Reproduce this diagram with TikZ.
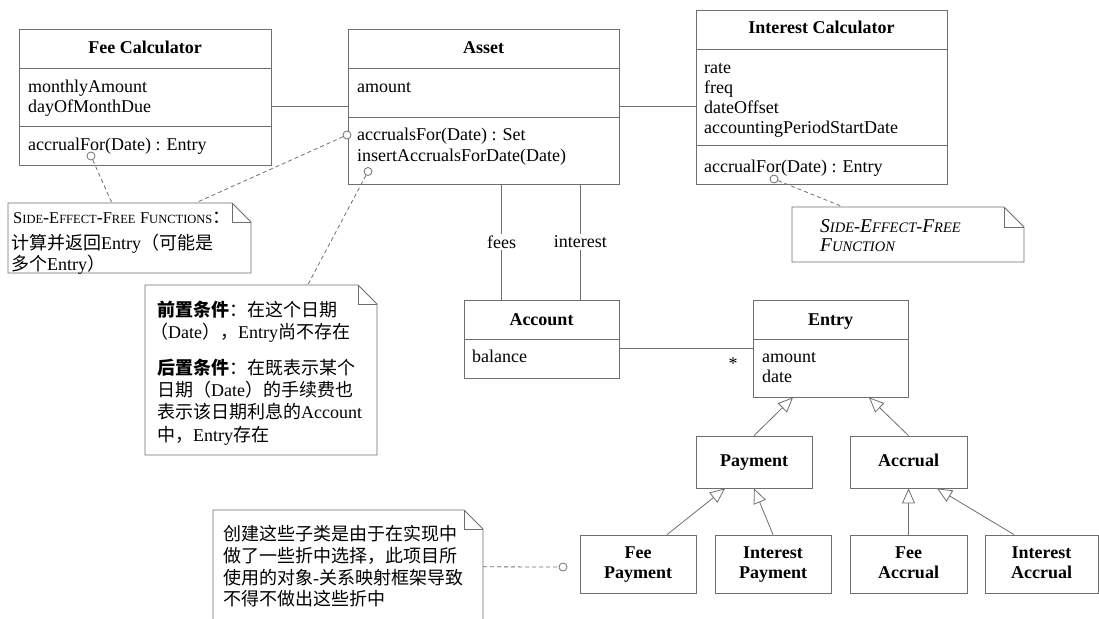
\documentclass[tikz,border=0pt]{standalone}
\usepackage{fontspec}
\setmainfont{Liberation Serif}
\newfontfamily\cjk{Noto Sans CJK SC}
\usetikzlibrary{arrows.meta,calc}
\definecolor{lg}{HTML}{6E6E6E}
\newcommand{\zh}[1]{{\cjk #1}}
\newcommand{\scA}[2]{{\fontsize{16.5}{20}\selectfont #1}{\fontsize{12.5}{20}\selectfont #2}}
\newcommand{\scB}[2]{{\fontsize{19.5}{20}\selectfont #1}{\fontsize{14.5}{20}\selectfont #2}}
\newcommand{\tl}[4]{\node[txt] (#1) at (#2,#3) {#4};}
\newcommand{\notefold}[5]{%
  \draw[ln, fill=white] (#1,#2) -- (#3-#5,#2) -- (#3,#2+#5) -- (#3,#4) -- (#1,#4) -- cycle;
  \draw[ln] (#3-#5,#2) -- (#3-#5,#2+#5) -- (#3,#2+#5);}
\begin{document}
\begin{tikzpicture}[x=1pt,y=-1pt,
  font=\fontsize{18}{20}\selectfont,
  ln/.style={draw=lg, line width=0.8pt},
  cls/.style={ln, rectangle, inner sep=0, fill=white},
  txt/.style={anchor=base west, inner sep=0, text=black},
  ttl/.style={anchor=base, inner sep=0, text=black, font=\fontsize{18}{20}\selectfont\bfseries},
  sub/.style={inner sep=0, text=black, align=center, font=\fontsize{18}{20}\selectfont\bfseries},
  dsh/.style={ln, dash pattern=on 4pt off 3pt},
  knob/.style={ln, circle, fill=white, minimum size=8pt, inner sep=0},
  gen/.style={ln, -{Triangle[open, length=15pt, width=13pt, fill=white]}},
  lbl/.style={fill=white, inner sep=1.5pt, text=black},
  holder/.style={inner sep=0, draw=none}]
\useasboundingbox (0,0) rectangle (1099,618);
\clip (0,0) rectangle (1099,618);

% ---------- class boxes ----------
\node[cls, minimum width=252, minimum height=136] (fee) at (145,97) {};
\node[cls, minimum width=271, minimum height=155] (asset) at (483.5,106.5) {};
\node[cls, minimum width=251, minimum height=174] (intc) at (821.5,97) {};
\node[cls, minimum width=155, minimum height=78] (account) at (541.5,339) {};
\node[cls, minimum width=155, minimum height=97] (entry) at (830.5,348.5) {};
\node[cls, minimum width=116, minimum height=52] (payment) at (754,462) {};
\node[cls, minimum width=117, minimum height=52] (accrual) at (908.5,462) {};
\node[cls, minimum width=116, minimum height=58] (feepay) at (638,564) {};
\node[cls, minimum width=116, minimum height=58] (intpay) at (773,564) {};
\node[cls, minimum width=117, minimum height=58] (feeacc) at (908.5,564) {};
\node[cls, minimum width=113, minimum height=58] (intacc) at (1041.5,564) {};

% compartments
\draw[ln] (19,68.3) -- (271,68.3);
\draw[ln] (19,126) -- (271,126);
\draw[ln] (348,68.3) -- (619,68.3);
\draw[ln] (348,117.3) -- (619,117.3);
\draw[ln] (696,49) -- (947,49);
\draw[ln] (696,145.7) -- (947,145.7);
\draw[ln] (464,339) -- (619,339);
\draw[ln] (753,339) -- (908,339);

% Fee Calculator
\node[ttl] (feeT) at (145,54) {Fee Calculator};
\tl{fee1}{28}{92.7}{monthlyAmount}
\tl{fee2}{28}{112.7}{dayOfMonthDue}
\tl{fee3}{28}{150.7}{accrualFor(Date) : Entry}
% Asset
\node[ttl] (assetT) at (483.5,54) {Asset};
\tl{as1}{357}{92.3}{amount}
\tl{as2}{357}{140.7}{accrualsFor(Date) : Set}
\tl{as3}{357}{161.7}{insertAccrualsForDate(Date)}
% Interest Calculator
\node[ttl] (intcT) at (821.5,34) {Interest Calculator};
\tl{ic1}{704}{73}{rate}
\tl{ic2}{704}{93}{freq}
\tl{ic3}{704}{113}{dateOffset}
\tl{ic4}{704}{133}{accountingPeriodStartDate}
\tl{ic5}{704}{172}{accrualFor(Date) : Entry}
% Account
\node[ttl] (accT) at (541.5,325) {Account};
\tl{ac1}{472}{362.7}{balance}
% Entry
\node[ttl] (entT) at (830.5,325) {Entry};
\tl{en1}{762}{362.7}{amount}
\tl{en2}{762}{382.7}{date}
% subclasses
\node[sub] (payT) at (payment) {\strut Payment};
\node[sub] (accrT) at (accrual) {\strut Accrual};
\node[sub] (fpT) at (feepay) {\strut Fee\\Payment\strut};
\node[sub] (ipT) at (intpay) {\strut Interest\\Payment\strut};
\node[sub] (faT) at (feeacc) {\strut Fee\\Accrual\strut};
\node[sub] (iaT) at (intacc) {\strut Interest\\Accrual\strut};

% ---------- associations ----------
\draw[ln] (fee.east |- asset.west) -- (asset.west);
\draw[ln] (asset.east) -- (intc.west |- asset.east);
\draw[ln] ([xshift=38pt]account.north west |- asset.south) -- ([xshift=38pt]account.north west)
  node[lbl, pos=0.5] (fees) {fees};
\draw[ln] ([xshift=-39pt]account.north east |- asset.south) -- ([xshift=-39pt]account.north east)
  node[lbl, pos=0.5] (interest) {interest};
\draw[ln] (account.east |- entry.west) -- (entry.west);
\node[anchor=base, inner sep=0] (star) at (733,369) {*};

% ---------- generalizations ----------
\draw[gen] (payment.north) -- ([xshift=-37.5pt]entry.south);
\draw[gen] (accrual.north) -- ([xshift=38.5pt]entry.south);
\draw[gen] ([xshift=29pt]feepay.north) -- ([xshift=-29pt]payment.south);
\draw[gen] (intpay.north) -- (payment.south);
\draw[gen] (feeacc.north) -- (accrual.south);
\draw[gen] ([xshift=-27.5pt]intacc.north) -- ([xshift=28.5pt]accrual.south);

% ---------- notes ----------
\notefold{8}{203}{251}{273}{19}
\node[holder, minimum width=243, minimum height=70] (n1) at (129.5,238) {};
\tl{n1a}{13}{223}{\scA{S}{IDE}-\scA{E}{FFECT}-\scA{F}{REE} \scA{F}{UNCTIONS}\zh{：}}
\tl{n1b}{11}{249}{\zh{计算并返回}Entry\zh{（可能是}}
\tl{n1c}{11}{270}{\zh{多个}Entry\zh{）}}

\notefold{145}{285}{377}{455}{19}
\node[holder, minimum width=232, minimum height=170] (n2) at (261,370) {};
\tl{n2a}{157}{316}{\zh{\bfseries 前置条件}\zh{：在这个日期}}
\tl{n2b}{150}{338}{\zh{（}Date\zh{），}Entry\zh{尚不存在}}
\tl{n2c}{157}{374}{\zh{\bfseries 后置条件}\zh{：在既表示某个}}
\tl{n2d}{157}{396}{\zh{日期（}Date\zh{）的手续费也}}
\tl{n2e}{157}{418}{\zh{表示该日期利息的}Account}
\tl{n2f}{157}{441}{\zh{中，}Entry\zh{存在}}

\notefold{792}{207}{1024}{262}{20}
\node[holder, minimum width=232, minimum height=55] (n3) at (908,234.5) {};
\tl{n3a}{820}{232}{\itshape\scB{S}{IDE}-\scB{E}{FFECT}-\scB{F}{REE}}
\tl{n3b}{820}{251}{\itshape\scB{F}{UNCTION}}

\notefold{213}{510}{483}{650}{19}
\node[holder, minimum width=270, minimum height=140] (n4) at (348,580) {};
\tl{n4a}{223}{540}{\zh{创建这些子类是由于在实现中}}
\tl{n4b}{223}{562}{\zh{做了一些折中选择，此项目所}}
\tl{n4c}{223}{584}{\zh{使用的对象}-\zh{关系映射框架导致}}
\tl{n4d}{223}{605}{\zh{不得不做出这些折中}}

% ---------- note anchors ----------
\node[knob] (c1) at (91,156) {};
\node[knob] (c2) at (347,135) {};
\node[knob] (c3) at (368,171.5) {};
\node[knob] (c4) at (774,179) {};
\node[knob] (c5) at (563,567) {};
\draw[dsh] (c1) -- ([xshift=104pt]n1.north west);
\draw[dsh] (c2) -- ([xshift=188pt]n1.north west);
\draw[dsh] (c3) -- ([xshift=163pt]n2.north west);
\draw[dsh] (c4) -- ([xshift=51pt]n3.north west);
\draw[dsh] ([yshift=-57pt]n4.north east) -- (c5);
\end{tikzpicture}
\end{document}
